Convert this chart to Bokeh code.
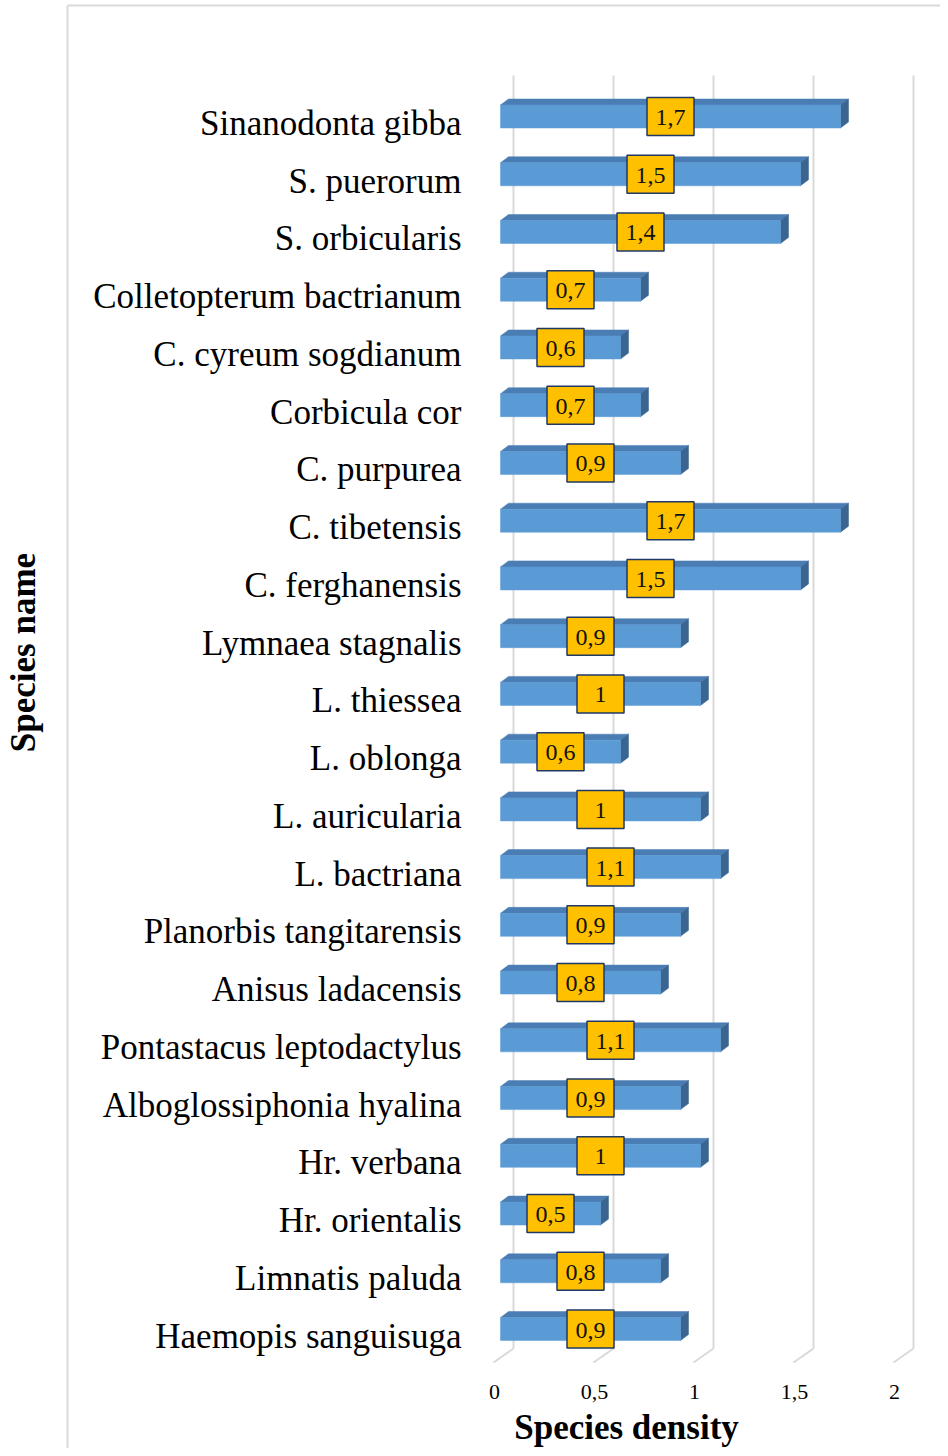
import numpy as np
from bokeh.plotting import figure
from bokeh.models import Range1d
from bokeh.core.properties import value
from bokeh.embed import file_html
from bokeh.resources import INLINE

# ---------------- data ----------------
species = [
    "Sinanodonta gibba", "S. puerorum", "S. orbicularis", "Colletopterum bactrianum",
    "C. cyreum sogdianum", "Corbicula cor", "C. purpurea", "C. tibetensis",
    "C. ferghanensis", "Lymnaea stagnalis", "L. thiessea", "L. oblonga",
    "L. auricularia", "L. bactriana", "Planorbis tangitarensis", "Anisus ladacensis",
    "Pontastacus leptodactylus", "Alboglossiphonia hyalina", "Hr. verbana",
    "Hr. orientalis", "Limnatis paluda", "Haemopis sanguisuga",
]
density = [1.7, 1.5, 1.4, 0.7, 0.6, 0.7, 0.9, 1.7, 1.5, 0.9, 1.0, 0.6,
           1.0, 1.1, 0.9, 0.8, 1.1, 0.9, 1.0, 0.5, 0.8, 0.9]
x_ticks = [0, 0.5, 1, 1.5, 2]
x_tick_labels = ["0", "0,5", "1", "1,5", "2"]
x_title = "Species density"
y_title = "Species name"


def fmt(v):
    s = ("%g" % v)
    return s.replace(".", ",")


density_labels = [fmt(v) for v in density]

# ---------------- layout (picture pixels) ----------------
W, H = 940, 1448
X0_PX = 500.0
PX_PER_UNIT = 200.0
ROW0_PX = 116.0
ROW_STEP = 57.74


def xd(px):
    return (px - X0_PX) / PX_PER_UNIT


def yd(py):
    return (py - ROW0_PX) / ROW_STEP


FONT = value("Liberation Serif")

p = figure(width=W, height=H,
           x_range=Range1d(xd(0), xd(W)),
           y_range=Range1d(yd(H), yd(0)),
           output_backend="svg", toolbar_location=None,
           x_axis_location=None, y_axis_location=None,
           min_border=0, min_border_left=0, min_border_right=0,
           min_border_top=0, min_border_bottom=0)
p.grid.visible = False
p.outline_line_color = None
p.background_fill_color = "white"
p.border_fill_color = "white"

# outer chart border
p.line([xd(67), xd(67)], [yd(5), yd(1460)], line_color="#d9d9d9", line_width=2)
p.line([xd(67), xd(950)], [yd(5), yd(5)], line_color="#d9d9d9", line_width=2)

# 3D gridlines: back wall + floor
GX = 13 / PX_PER_UNIT
FX = -7 / PX_PER_UNIT
wall_top, wall_bot, floor_front = yd(75), yd(1348), yd(1362)
t = np.array(x_ticks, dtype=float)
p.segment(x0=t + GX, y0=[wall_top] * len(t), x1=t + GX, y1=[wall_bot] * len(t),
          line_color="#d9d9d9", line_width=2)
p.segment(x0=t + GX, y0=[wall_bot] * len(t), x1=t + FX, y1=[floor_front] * len(t),
          line_color="#d9d9d9", line_width=2)

# bars
idx = np.arange(len(species), dtype=float)
v = np.array(density)
hh = 11.5 / ROW_STEP
DX = 8 / PX_PER_UNIT
DY = 6 / ROW_STEP

top_xs = [[0, vi, vi + DX, DX] for vi in v]
top_ys = [[i - hh, i - hh, i - hh - DY, i - hh - DY] for i in idx]
side_xs = [[vi, vi + DX, vi + DX, vi] for vi in v]
side_ys = [[i - hh, i - hh - DY, i + hh - DY, i + hh] for i in idx]

p.patches(top_xs, top_ys, fill_color="#4A7DB3", line_color="#4A7DB3", line_width=0.5)
p.patches(side_xs, side_ys, fill_color="#3A6590", line_color="#3A6590", line_width=0.5)
p.quad(left=0, right=v, top=idx - hh, bottom=idx + hh,
       fill_color="#5B9BD5", line_color="#5B9BD5", line_width=0.5)

# data labels
p.rect(x=v / 2, y=idx, width=47, height=38, width_units="screen", height_units="screen",
       fill_color="#FFC000", line_color="#1F3864", line_width=1.5)
p.text(x=v / 2, y=idx, text=density_labels, text_font=FONT, text_font_size="24px",
       text_color="#111111", text_align="center", text_baseline="middle", y_offset=1)

# category labels
p.text(x=[0] * len(species), y=idx, text=species, text_font=FONT, text_font_size="35px",
       text_color="black", text_align="right", text_baseline="middle",
       x_offset=-39, y_offset=7)

# x tick labels
p.text(x=t, y=[yd(1391)] * len(t), text=x_tick_labels, text_font=FONT,
       text_font_size="22px", text_color="black", text_align="center",
       text_baseline="middle", x_offset=-6)

# axis titles
p.text(x=[xd(626)], y=[yd(1427)], text=[x_title], text_font=FONT, text_font_size="35px",
       text_font_style="bold", text_color="black", text_align="center",
       text_baseline="middle")
p.text(x=[xd(23)], y=[yd(652)], text=[y_title], text_font=FONT, text_font_size="35px",
       text_font_style="bold", text_color="black", text_align="center",
       text_baseline="middle", angle=np.pi / 2)

open("out.html", "w").write(file_html(p, INLINE))
